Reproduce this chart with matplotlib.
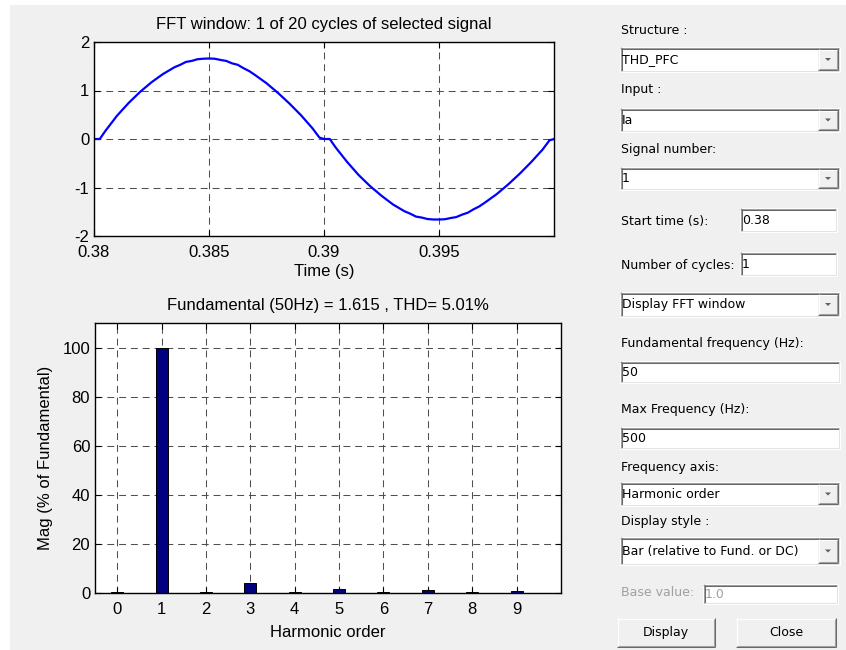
import matplotlib
matplotlib.use("Agg")
from matplotlib import pyplot as plt
from matplotlib.patches import Rectangle, Polygon

plt.rcParams['axes.unicode_minus'] = False
plt.rcParams['lines.scale_dashes'] = False
plt.rcParams['font.family'] = ['Liberation Sans', 'DejaVu Sans']

# one cycle of the selected signal
time_s = [0.38, 0.38025, 0.3805, 0.381, 0.3815, 0.382, 0.3825, 0.383, 0.38325, 0.3835,
          0.38375, 0.384, 0.38425, 0.3845, 0.38475, 0.385, 0.38525, 0.3855, 0.38575,
          0.386, 0.38625, 0.3865, 0.38675, 0.387, 0.3875, 0.388, 0.3885, 0.389,
          0.3895, 0.3898, 0.39, 0.39025, 0.3905, 0.391, 0.3915, 0.392, 0.3925, 0.393,
          0.39325, 0.3935, 0.39375, 0.394, 0.39425, 0.3945, 0.39475, 0.395, 0.39525,
          0.3955, 0.39575, 0.396, 0.39625, 0.3965, 0.39675, 0.397, 0.3975, 0.398,
          0.3985, 0.399, 0.3995, 0.3998, 0.40]
current = [0.0, 0.0, 0.17, 0.48, 0.74, 0.97, 1.17, 1.34, 1.41, 1.48,
           1.53, 1.59, 1.61, 1.645, 1.655, 1.66, 1.655, 1.63, 1.61,
           1.56, 1.53, 1.46, 1.40, 1.32, 1.15, 0.95, 0.73, 0.49,
           0.22, 0.03, 0.0, 0.0, -0.17, -0.47, -0.74, -0.97, -1.17, -1.35,
           -1.42, -1.49, -1.54, -1.60, -1.62, -1.65, -1.66, -1.66, -1.655,
           -1.63, -1.61, -1.56, -1.52, -1.45, -1.39, -1.31, -1.14, -0.94,
           -0.72, -0.48, -0.22, -0.03, 0.0]
time_ticks = [0.38, 0.385, 0.39, 0.395]
time_labels = ['0.38', '0.385', '0.39', '0.395']

# harmonic spectrum (% of fundamental)
orders = [0, 1, 2, 3, 4, 5, 6, 7, 8, 9]
mags = [0.45, 100, 0.45, 4.3, 0.45, 1.9, 0.45, 1.4, 0.45, 0.9]

W, H = 846, 650
fig = plt.figure(figsize=(W / 100, H / 100), dpi=100)
fig.patch.set_facecolor('white')

# pixel-space background layer for the GUI panel
bg = fig.add_axes([0, 0, 1, 1], zorder=-1)
bg.set_xlim(0, W)
bg.set_ylim(H, 0)
bg.axis('off')
bg.add_patch(Rectangle((10, 5), W - 10, H - 5, fc='#f0f0f0', ec='none'))

PANEL = dict(family='DejaVu Sans', fontsize=9)


def hline(x0, x1, y, c):
    bg.plot([x0, x1], [y, y], color=c, lw=0.75, solid_capstyle='butt')


def vline(x, y0, y1, c):
    bg.plot([x, x], [y0, y1], color=c, lw=0.75, solid_capstyle='butt')


def sunken(x0, y0, x1, y1):
    bg.add_patch(Rectangle((x0, y0), x1 - x0, y1 - y0, fc='white', ec='none'))
    hline(x0, x1, y0 + 0.5, '#a0a0a0')
    vline(x0 + 0.5, y0, y1, '#a0a0a0')
    hline(x0 + 1, x1 - 1, y0 + 1.5, '#696969')
    vline(x0 + 1.5, y0 + 1, y1 - 1, '#696969')
    hline(x0, x1, y1 - 0.5, '#ffffff')
    vline(x1 - 0.5, y0, y1, '#ffffff')
    hline(x0 + 1, x1 - 1, y1 - 1.5, '#e3e3e3')
    vline(x1 - 1.5, y0 + 1, y1 - 1, '#e3e3e3')


def raised(x0, y0, x1, y1):
    bg.add_patch(Rectangle((x0, y0), x1 - x0, y1 - y0, fc='#f0f0f0', ec='none'))
    hline(x0, x1, y0 + 0.5, '#ffffff')
    vline(x0 + 0.5, y0, y1, '#ffffff')
    hline(x0, x1, y1 - 0.5, '#696969')
    vline(x1 - 0.5, y0, y1, '#696969')
    hline(x0 + 1, x1 - 1, y1 - 1.5, '#a0a0a0')
    vline(x1 - 1.5, y0 + 1, y1 - 1, '#a0a0a0')


def label(x, y, s, color='black'):
    bg.text(x, y, s, ha='left', va='center', color=color, **PANEL)


def editbox(x0, y0, x1, y1, s, color='black'):
    sunken(x0, y0, x1, y1)
    bg.text(x0 + 2, (y0 + y1) / 2, s, ha='left', va='center', color=color, **PANEL)


def dropdown(x0, y0, x1, y1, s):
    editbox(x0, y0, x1, y1, s)
    raised(x1 - 22, y0 + 2, x1 - 2, y1 - 2)
    cx, cy = x1 - 12, (y0 + y1) / 2
    bg.add_patch(Polygon([[cx - 3, cy - 1.5], [cx + 3, cy - 1.5], [cx, cy + 1.5]],
                         closed=True, fc='#606060', ec='none'))


def button(x0, y0, x1, y1, s):
    raised(x0, y0, x1, y1)
    bg.text((x0 + x1) / 2, (y0 + y1) / 2, s, ha='center', va='center', **PANEL)


label(621, 30, 'Structure :')
dropdown(620, 47, 840, 72, 'THD_PFC')
label(621, 90, 'Input :')
dropdown(620, 108, 840, 132, 'Ia')
label(621, 150, 'Signal number:')
dropdown(620, 167, 840, 190, '1')
label(621, 222, 'Start time (s):')
editbox(740, 208, 837, 232, '0.38')
label(621, 265, 'Number of cycles:')
editbox(740, 252, 837, 276, '1')
dropdown(620, 292, 840, 317, 'Display FFT window')
label(621, 344, 'Fundamental frequency (Hz):')
editbox(620, 361, 840, 383, '50')
label(621, 410, 'Max Frequency (Hz):')
editbox(620, 427, 840, 449, '500')
label(621, 467, 'Frequency axis:')
dropdown(620, 482, 840, 506, 'Harmonic order')
label(621, 522, 'Display style :')
dropdown(620, 537, 840, 565, 'Bar (relative to Fund. or DC)')
label(621, 593, 'Base value:', color='#a0a0a0')
editbox(703, 584, 838, 604, '1.0', color='#a0a0a0')
button(617, 618, 715, 647, 'Display')
button(736, 618, 836, 647, 'Close')

GRID = dict(color='#505050', lw=0.75, linestyle=(0, (5, 3.5)))


def style(ax, pad):
    ax.set_facecolor('white')
    for sp in ax.spines.values():
        sp.set_linewidth(1.0)
        sp.set_color('black')
    ax.tick_params(direction='in', length=4, width=0.8, top=True, right=True,
                   labelsize=12, pad=3.5)
    ax.tick_params(axis='x', pad=pad)
    ax.grid(True, **GRID)
    ax.set_axisbelow(True)


# FFT window plot
ax1 = fig.add_axes([94 / W, 1 - 236 / H, 460 / W, 194 / H])
ax1.plot(time_s, current, color='#0000ff', lw=1.6)
ax1.set_xlim(0.38, 0.40)
ax1.set_ylim(-2, 2)
ax1.set_xticks(time_ticks)
ax1.set_xticklabels(time_labels)
ax1.set_yticks([-2, -1, 0, 1, 2])
style(ax1, 6.5)
ax1.set_title('FFT window: 1 of 20 cycles of selected signal', fontsize=12, pad=9.6)
ax1.set_xlabel('Time (s)', fontsize=12, labelpad=3)

# spectrum plot
ax2 = fig.add_axes([95 / W, 1 - 593.3 / H, 466 / W, 270 / H])
ax2.bar(orders, mags, width=0.27, color='#000080', edgecolor='black', lw=0.7)
ax2.set_xlim(-0.5, 10)
ax2.set_ylim(0, 110)
ax2.set_xticks(orders)
ax2.set_yticks([0, 20, 40, 60, 80, 100])
style(ax2, 6.5)
ax2.set_title('Fundamental (50Hz) = 1.615 , THD= 5.01%', fontsize=12, pad=9.6)
ax2.set_xlabel('Harmonic order', fontsize=12, labelpad=5.5)
ax2.set_ylabel('Mag (% of Fundamental)', fontsize=12, labelpad=6.5)

fig.savefig('out.png', dpi=100, facecolor=fig.get_facecolor())
